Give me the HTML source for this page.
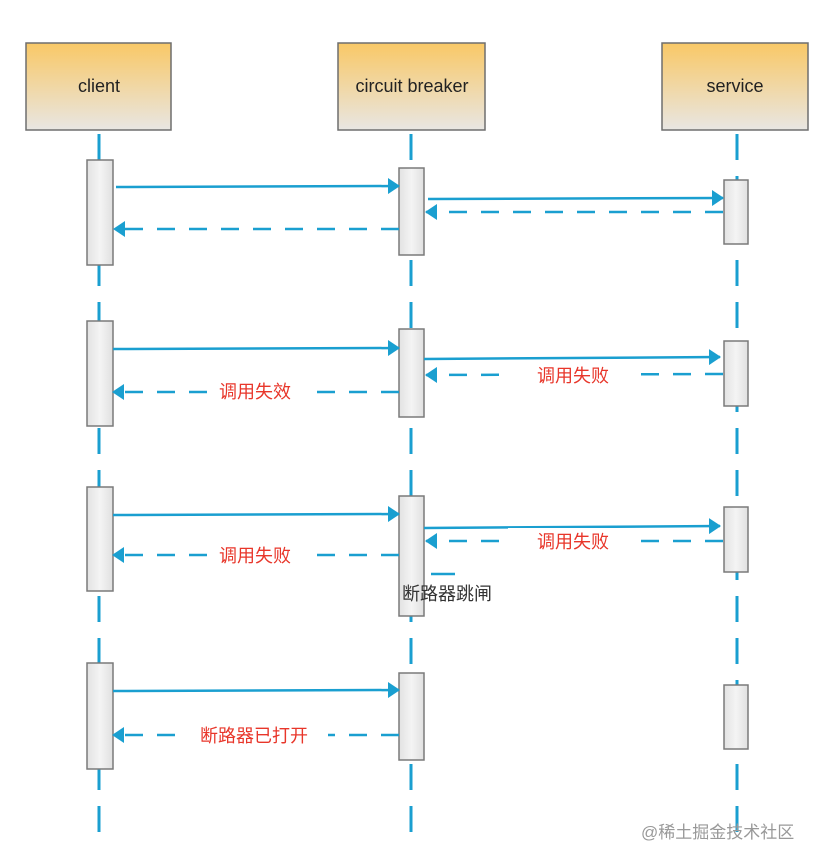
<!DOCTYPE html>
<html><head><meta charset="utf-8"><style>
html,body{margin:0;padding:0;background:#fff;}
svg{display:block;}
</style></head><body>
<svg width="819" height="866" viewBox="0 0 819 866" xmlns="http://www.w3.org/2000/svg">
<defs>
<linearGradient id="g" x1="0" y1="0" x2="0" y2="1">
<stop offset="0" stop-color="#f9c866"/><stop offset="1" stop-color="#e8e6e3"/>
</linearGradient>
<linearGradient id="a" x1="0" y1="0" x2="1" y2="0">
<stop offset="0" stop-color="#e2e2e2"/><stop offset="0.5" stop-color="#f4f4f4"/><stop offset="1" stop-color="#e0e0e0"/>
</linearGradient>
<marker id="ar" markerWidth="12" markerHeight="16" refX="11" refY="8" orient="auto" markerUnits="userSpaceOnUse">
<path d="M0,0 L12,8 L0,16 Z" fill="#1a9fd0"/></marker>
</defs>
<g stroke="#1a9fd0" stroke-width="3" fill="none" stroke-dasharray="26 16">
<line x1="99" y1="134" x2="99" y2="840"/>
<line x1="411" y1="134" x2="411" y2="840"/>
<line x1="737" y1="134" x2="737" y2="840"/>
</g>
<g stroke="#6e6e6e" stroke-width="1.5" fill="url(#g)">
<rect x="26" y="43" width="145" height="87"/>
<rect x="338" y="43" width="147" height="87"/>
<rect x="662" y="43" width="146" height="87"/>
</g>
<g font-family="Liberation Sans, sans-serif" font-size="18" fill="#222" text-anchor="middle">
<text x="99" y="92">client</text>
<text x="412" y="92">circuit breaker</text>
<text x="735" y="92">service</text>
</g>
<g stroke="#7a7a7a" stroke-width="1.5" fill="url(#a)">
<rect x="87" y="160" width="26" height="105"/>
<rect x="399" y="168" width="25" height="87"/>
<rect x="724" y="180" width="24" height="64"/>
<rect x="87" y="321" width="26" height="105"/>
<rect x="399" y="329" width="25" height="88"/>
<rect x="724" y="341" width="24" height="65"/>
<rect x="87" y="487" width="26" height="104"/>
<rect x="399" y="496" width="25" height="120"/>
<rect x="724" y="507" width="24" height="65"/>
<rect x="87" y="663" width="26" height="106"/>
<rect x="399" y="673" width="25" height="87"/>
<rect x="724" y="685" width="24" height="64"/>
</g>
<g stroke="#1a9fd0" stroke-width="2.5" fill="none" marker-end="url(#ar)">
<line x1="116" y1="187" x2="399" y2="186"/>
<line x1="428" y1="199" x2="723" y2="198"/>
<line x1="113" y1="349" x2="399" y2="348"/>
<line x1="424" y1="359" x2="720" y2="357"/>
<line x1="113" y1="515" x2="399" y2="514"/>
<line x1="424" y1="528" x2="720" y2="526"/>
<line x1="113" y1="691" x2="399" y2="690"/>
</g>
<g stroke="#1a9fd0" stroke-width="2.5" fill="none" stroke-dasharray="18 14" marker-end="url(#ar)">
<line x1="723" y1="212" x2="426" y2="212"/>
<line x1="399" y1="229" x2="114" y2="229"/>
<line x1="723" y1="374" x2="426" y2="375"/>
<line x1="399" y1="392" x2="113" y2="392"/>
<line x1="723" y1="541" x2="426" y2="541"/>
<line x1="399" y1="555" x2="113" y2="555"/>
<line x1="399" y1="735" x2="113" y2="735"/>
</g>
<g fill="#fff">
<rect x="508" y="362" width="130" height="26"/>
<rect x="207" y="379" width="100" height="26"/>
<rect x="508" y="528" width="130" height="26"/>
<rect x="207" y="542" width="100" height="26"/>
<rect x="188" y="722" width="140" height="26"/>
</g>
<line x1="431" y1="574" x2="455" y2="574" stroke="#1a9fd0" stroke-width="2.5"/>
<g font-family="Liberation Sans, 'Noto Sans CJK SC', sans-serif" font-size="18" fill="#e8362a">
<text x="537" y="382">调用失败</text>
<text x="219" y="398">调用失效</text>
<text x="537" y="548">调用失败</text>
<text x="219" y="562">调用失败</text>
<text x="200" y="742">断路器已打开</text>
</g>
<text x="402" y="600" font-family="Liberation Sans, 'Noto Sans CJK SC', sans-serif" font-size="18" fill="#333">断路器跳闸</text>
<text x="641" y="838" font-family="Liberation Sans, 'Noto Sans CJK SC', sans-serif" font-size="17" fill="#999">@稀土掘金技术社区</text>
</svg>
</body></html>
